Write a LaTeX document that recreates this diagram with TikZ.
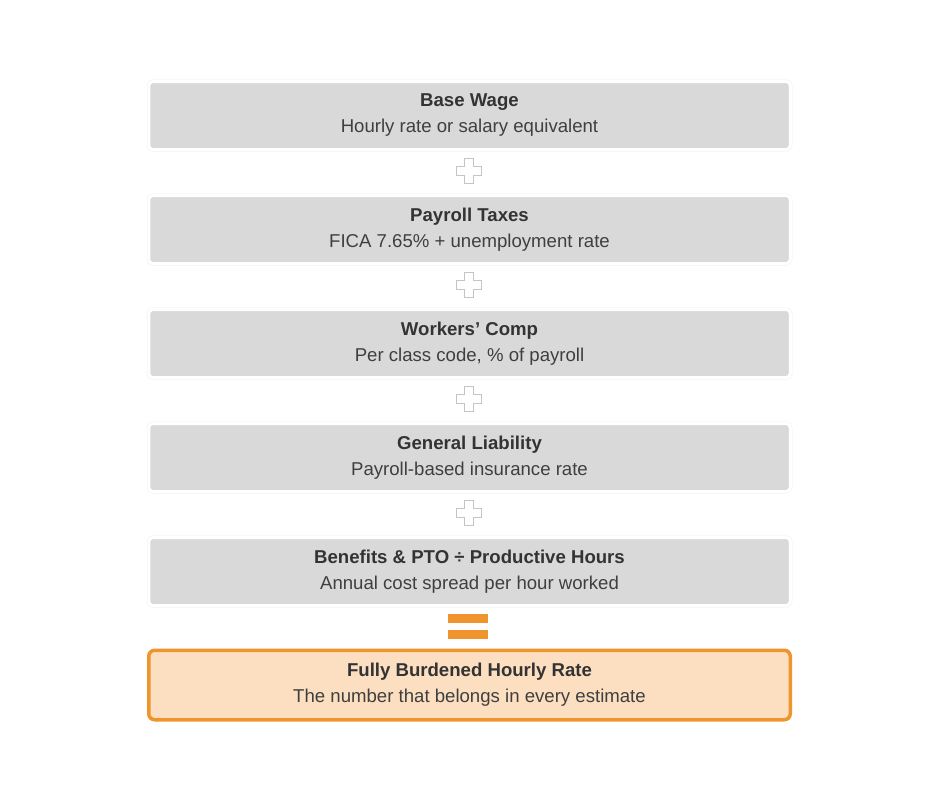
\documentclass[tikz,border=0pt]{standalone}
\usepackage{fontspec}
\setmainfont{Liberation Sans}
\usetikzlibrary{calc}
\definecolor{boxgray}{HTML}{D9D9D9}
\definecolor{edgegray}{HTML}{F0F0F0}
\definecolor{txtdark}{HTML}{333333}
\definecolor{txtsub}{HTML}{3F3F3F}
\definecolor{orng}{HTML}{F0952E}
\definecolor{peach}{HTML}{FCDFC0}
\definecolor{plusline}{HTML}{C4C4C4}
\begin{document}
\begin{tikzpicture}[x=1pt,y=-1pt,
  stepbox/.style={preaction={draw=edgegray, line width=4pt}, draw=white, line width=3pt,
    fill=boxgray, rounded corners=4pt, minimum width=641.5pt, minimum height=68pt,
    inner sep=0pt, align=center, text=txtdark, font=\fontsize{18.6}{26}\selectfont},
  finalbox/.style={draw=orng, line width=3.5pt, fill=peach, rounded corners=6pt,
    minimum width=641.5pt, minimum height=69.5pt, inner sep=0pt, align=center,
    text=txtdark, font=\fontsize{18.6}{26}\selectfont},
  plussign/.pic={\draw[plusline, fill=white, line width=0.8pt]
    (-4.5,-12.5) -- (4.5,-12.5) -- (4.5,-4.5) -- (12.5,-4.5) -- (12.5,4.5) -- (4.5,4.5)
    -- (4.5,12.5) -- (-4.5,12.5) -- (-4.5,4.5) -- (-12.5,4.5) -- (-12.5,-4.5) -- (-4.5,-4.5) -- cycle;},
  eqbar/.style={fill=orng, draw=none}
]
\useasboundingbox (0,0) rectangle (940,788);
\fill[white] (0,0) rectangle (940,788);

\node[stepbox] (b1) at (469.5,115.5) {\textbf{Base Wage}\\{\color{txtsub}Hourly rate or salary equivalent}};
\node[stepbox] (b2) at (469.5,229.5) {\textbf{Payroll Taxes}\\{\color{txtsub}FICA 7.65\% + unemployment rate}};
\node[stepbox] (b3) at (469.5,343.5) {\textbf{Workers’ Comp}\\{\color{txtsub}Per class code, \% of payroll}};
\node[stepbox] (b4) at (469.5,457.5) {\textbf{General Liability}\\{\color{txtsub}Payroll-based insurance rate}};
\node[stepbox] (b5) at (469.5,571.5) {\textbf{Benefits \& PTO ÷ Productive Hours}\\{\color{txtsub}Annual cost spread per hour worked}};
\node[finalbox] (fin) at (469.5,685) {\textbf{Fully Burdened Hourly Rate}\\{\color{txtsub}The number that belongs in every estimate}};

\coordinate (p1) at ($(b1.south)!0.5!(b2.north)+(-1,-1.5)$);
\coordinate (p2) at ($(b2.south)!0.5!(b3.north)+(-1,-1.5)$);
\coordinate (p3) at ($(b3.south)!0.5!(b4.north)+(-1,-1.5)$);
\coordinate (p4) at ($(b4.south)!0.5!(b5.north)+(-1,-1.5)$);
\pic at (p1) {plussign};
\pic at (p2) {plussign};
\pic at (p3) {plussign};
\pic at (p4) {plussign};

\coordinate (eq) at ($(b5.south)!0.5!(fin.north)+(-1.5,-1.5)$);
\fill[eqbar] ($(eq)+(-20,-12)$) rectangle ($(eq)+(20,-3)$);
\fill[eqbar] ($(eq)+(-20,4)$) rectangle ($(eq)+(20,13)$);
\end{tikzpicture}
\end{document}
